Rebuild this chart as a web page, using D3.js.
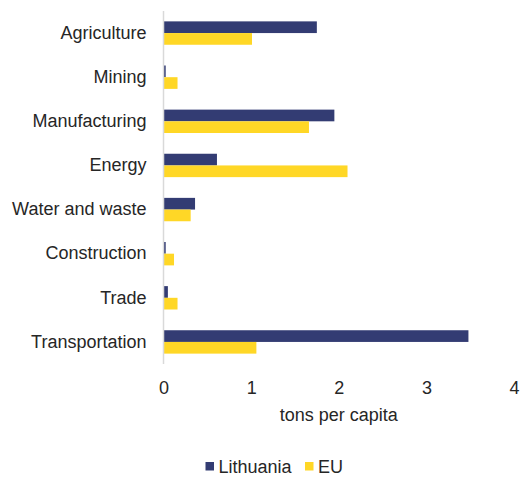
<!DOCTYPE html>
<html>
<head>
<meta charset="utf-8">
<script src="https://cdn.jsdelivr.net/npm/d3@7"></script>
<style>
  body { margin: 0; background: #fff; }
  svg { display: block; }
  text { font-family: "Liberation Sans", Arial, sans-serif; fill: #262626; }
</style>
</head>
<body>
<div id="chart"></div>
<script>
// DATA
const sectors = [`Agriculture`, `Mining`, `Manufacturing`, `Energy`, `Water and waste`, `Construction`, `Trade`, `Transportation`];
const lithuania = [1.75, 0.025, 1.95, 0.61, 0.36, 0.025, 0.05, 3.48];
const eu = [1.01, 0.16, 1.66, 2.10, 0.31, 0.12, 0.16, 1.06];
const seriesNames = [`Lithuania`, `EU`];
const xTicks = [0, 1, 2, 3, 4];

const COLORS = { Lithuania: `#333c73`, EU: `#ffd726` };
const FONT_SIZE = 18;

const width = 522;
const height = 477;
const plot = { left: 163.5, right: 514, top: 11, bottom: 364 };

const svg = d3.select(`#chart`)
  .append(`svg`)
  .attr(`width`, width)
  .attr(`height`, height);

// SCALES
const xScale = d3.scaleLinear()
  .domain([0, 4])
  .range([plot.left, plot.right]);

const yScale = d3.scaleBand()
  .domain(sectors)
  .range([plot.top, plot.bottom])
  .paddingInner(0.47)
  .paddingOuter(0.235);

const subScale = d3.scaleBand()
  .domain(seriesNames)
  .range([0, yScale.bandwidth()]);

const rows = sectors.map((s, i) => ({ sector: s, Lithuania: lithuania[i], EU: eu[i] }));

// BARS
const group = svg.selectAll(`.row`)
  .data(rows)
  .enter()
  .append(`g`)
  .attr(`class`, `row`)
  .attr(`transform`, d => `translate(0, ${yScale(d.sector)})`);

group.selectAll(`rect`)
  .data(d => seriesNames.map(name => ({ name, value: d[name] })))
  .enter()
  .append(`rect`)
  .attr(`x`, xScale(0))
  .attr(`y`, d => subScale(d.name))
  .attr(`width`, d => xScale(d.value) - xScale(0))
  .attr(`height`, subScale.bandwidth())
  .attr(`fill`, d => COLORS[d.name]);

// AXES
const xAxis = d3.axisBottom(xScale)
  .tickValues(xTicks)
  .tickSize(0)
  .tickPadding(17)
  .tickFormat(d3.format(`d`));

svg.append(`g`)
  .attr(`transform`, `translate(0, ${plot.bottom})`)
  .call(xAxis)
  .call(g => g.select(`.domain`).remove())
  .call(g => g.selectAll(`.tick text`)
    .attr(`font-size`, FONT_SIZE)
    .attr(`font-family`, null)
    .attr(`fill`, `#262626`));

const yAxis = d3.axisLeft(yScale)
  .tickSize(0)
  .tickPadding(17);

svg.append(`g`)
  .attr(`transform`, `translate(${plot.left}, 0)`)
  .call(yAxis)
  .call(g => g.select(`.domain`)
    .attr(`stroke`, `#d9d9d9`)
    .attr(`stroke-width`, 1.5)
    .attr(`d`, `M0,${plot.top}V${plot.bottom}`))
  .call(g => g.selectAll(`.tick text`)
    .attr(`font-size`, FONT_SIZE)
    .attr(`font-family`, null)
    .attr(`fill`, `#262626`));

// AXIS TITLE
svg.append(`text`)
  .attr(`x`, xScale(2))
  .attr(`y`, 421)
  .attr(`text-anchor`, `middle`)
  .attr(`font-size`, FONT_SIZE)
  .text(`tons per capita`);

// LEGEND
const legendX = [205.5, 305];
const legend = svg.selectAll(`.legend`)
  .data(seriesNames)
  .enter()
  .append(`g`)
  .attr(`class`, `legend`)
  .attr(`transform`, (d, i) => `translate(${legendX[i]}, 462)`);

legend.append(`rect`)
  .attr(`width`, 8.5)
  .attr(`height`, 8.5)
  .attr(`fill`, d => COLORS[d]);

legend.append(`text`)
  .attr(`x`, 13)
  .attr(`y`, 11)
  .attr(`font-size`, FONT_SIZE)
  .text(d => d);
</script>
</body>
</html>
